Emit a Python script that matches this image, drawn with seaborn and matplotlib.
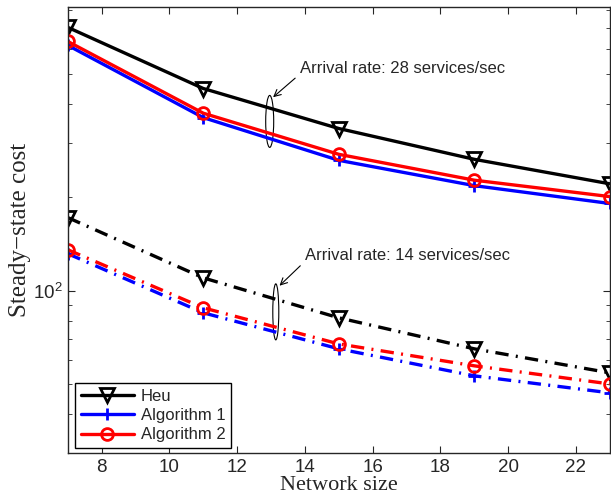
import numpy as np
import matplotlib
matplotlib.use("Agg")
import matplotlib.pyplot as plt
import seaborn as sns
from matplotlib.patches import Ellipse
from matplotlib.transforms import ScaledTranslation
from matplotlib.ticker import NullFormatter, FixedLocator

# network sizes on the x axis
network_size = [7, 11, 15, 19, 23]

# arrival rate 28 services/sec
heu_28 = [705, 448, 333, 265, 221]
alg1_28 = [617, 361, 263, 218, 191]
alg2_28 = [635, 373, 275, 227, 201]

# arrival rate 14 services/sec
heu_14 = [172, 110, 81.8, 65.0, 54.4]
alg1_14 = [131.6, 84.9, 65.0, 53.2, 46.9]
alg2_14 = [135.5, 88.1, 67.4, 57.3, 50.1]

series_names = ["Heu", "Algorithm 1", "Algorithm 2"]
label_28 = "Arrival rate: 28 services/sec"
label_14 = "Arrival rate: 14 services/sec"

sns.set_style("ticks")
plt.rcParams["font.family"] = ["Liberation Sans", "DejaVu Sans"]

fig = plt.figure(figsize=(6.11, 4.99), dpi=100)
ax = fig.add_axes([0.111, 0.092, 0.887, 0.894])

colors = ["black", "blue", "red"]
markers = ["v", "+", "o"]
msizes = [10, 9, 8.5]
dashdot = (0, (4, 2.2, 0.6, 2.2))

for vals, name, c, m, ms in zip([heu_28, alg1_28, alg2_28], series_names, colors, markers, msizes):
    sns.lineplot(x=network_size, y=vals, ax=ax, color=c, lw=2.4, marker=m,
                 markersize=ms, markerfacecolor="none", markeredgecolor=c,
                 markeredgewidth=2, label=name)

for vals, c, m, ms in zip([heu_14, alg1_14, alg2_14], colors, markers, msizes):
    sns.lineplot(x=network_size, y=vals, ax=ax, color=c, lw=2.4, marker=m,
                 markersize=ms, markerfacecolor="none", markeredgecolor=c,
                 markeredgewidth=2, linestyle=dashdot, legend=False)

ax.set_yscale("log")
ax.set_xlim(7, 23)
ax.set_ylim(30, 820)
ax.xaxis.set_major_locator(FixedLocator([8, 10, 12, 14, 16, 18, 20, 22]))
ax.yaxis.set_minor_formatter(NullFormatter())
ax.tick_params(which="both", direction="in", top=True, right=True, labelsize=13.5)
ax.tick_params(which="major", length=5)
ax.tick_params(which="minor", length=3)
ax.tick_params(axis="x", pad=4.5)
for s in ax.spines.values():
    s.set_linewidth(1)
    s.set_visible(True)

ax.set_xlabel("Network size", family="Liberation Serif", fontsize=16, labelpad=0)
ax.set_ylabel("Steady\u2212state cost", family="Liberation Serif", fontsize=18, labelpad=2)

# ellipses grouping the curves
for (ex, ey, w, h) in [(12.96, 351, 0.08, 0.52), (13.14, 85.5, 0.06, 0.56)]:
    tr = fig.dpi_scale_trans + ScaledTranslation(ex, ey, ax.transData)
    ax.add_patch(Ellipse((0, 0), w, h, transform=tr, fill=False, ec="black", lw=0.8))

arrow = dict(arrowstyle="->", color="black", lw=0.8, relpos=(0, 0.1), shrinkA=1, shrinkB=0)
ax.annotate(label_28, xy=(13.06, 420), xytext=(13.84, 520), ha="left", va="center",
            fontsize=12, arrowprops=arrow)
ax.annotate(label_14, xy=(13.25, 103.8), xytext=(13.99, 129.7), ha="left", va="center",
            fontsize=12, arrowprops=arrow)

leg = ax.legend(loc="lower left", bbox_to_anchor=(0.013, 0.011), borderaxespad=0,
                fontsize=12, handlelength=3.2, fancybox=False, framealpha=1,
                edgecolor="black", borderpad=0.35, labelspacing=0.25, handletextpad=0.4)
leg.get_frame().set_linewidth(1)

fig.savefig("out.png", dpi=100)
